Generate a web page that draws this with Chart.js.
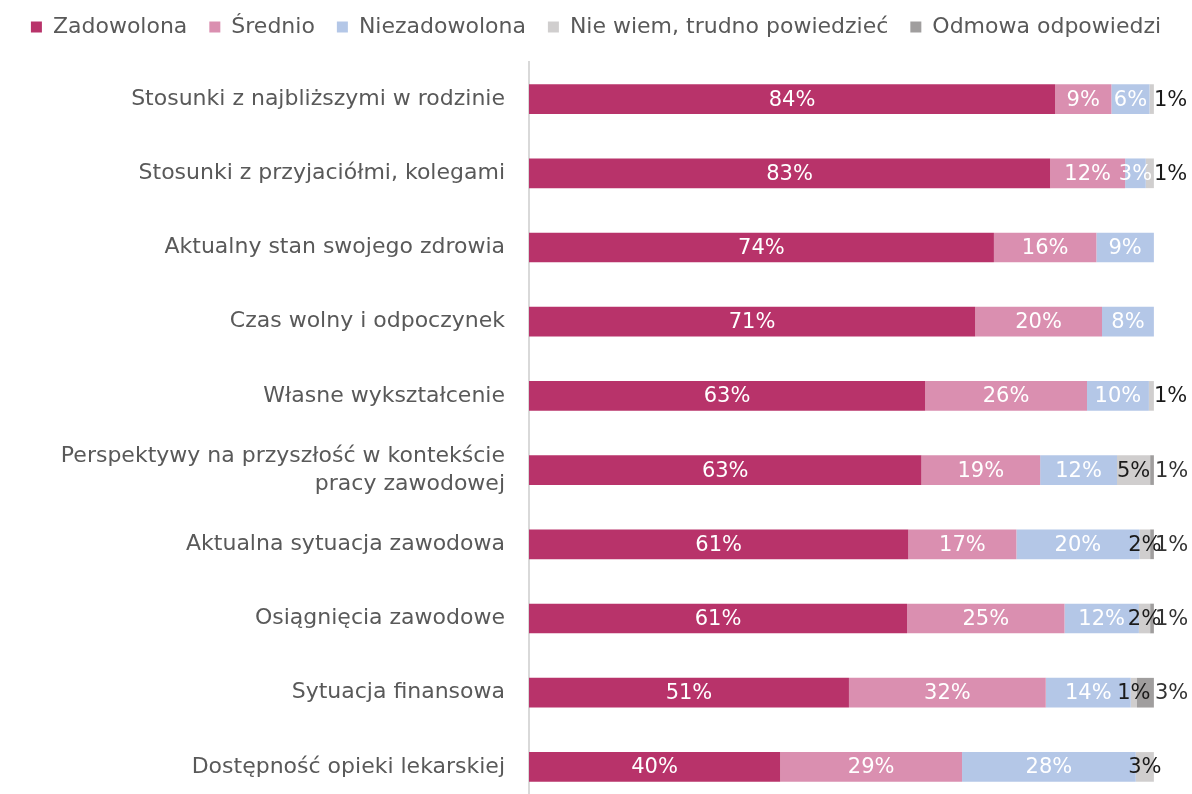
<!DOCTYPE html>
<html>
<head>
<meta charset="utf-8">
<script src="https://cdn.jsdelivr.net/npm/chart.js@4.4.1/dist/chart.umd.min.js"></script>
<style>
  html, body { margin: 0; padding: 0; background: #fff; overflow: hidden; }
  #wrap { width: 1192px; height: 804px; position: relative; }
</style>
</head>
<body>
<div id="wrap"><canvas id="satisfactionChart"></canvas></div>
<script>
// Categories (top to bottom)
const categories = [
    'Stosunki z najbliższymi w rodzinie',
    'Stosunki z przyjaciółmi, kolegami',
    'Aktualny stan swojego zdrowia',
    'Czas wolny i odpoczynek',
    'Własne wykształcenie',
    ['Perspektywy na przyszłość w kontekście', 'pracy zawodowej'],
    'Aktualna sytuacja zawodowa',
    'Osiągnięcia zawodowe',
    'Sytuacja finansowa',
    'Dostępność opieki lekarskiej',
];

// Shares in %
const zadowolona    = [84.2, 83.4, 74.4, 71.4, 63.4, 62.8, 60.7, 60.5, 51.2, 40.2];
const srednio       = [ 9.0, 12.0, 16.4, 20.3, 25.9, 19.0, 17.3, 25.2, 31.5, 29.1];
const niezadowolona = [ 6.1,  3.3,  9.2,  8.3,  9.9, 12.3, 19.7, 11.9, 13.6, 27.8];
const nieWiem       = [ 0.7,  1.3,  0,    0,    0.8,  5.3,  1.7,  1.8,  1.0,  2.9];
const odmowa        = [ 0,    0,    0,    0,    0,    0.6,  0.6,  0.6,  2.7,  0];

const FONT = '"DejaVu Sans", sans-serif';

// Draws the percentage labels on the segments
const segmentLabels = {
    id: 'segmentLabels',
    afterDatasetsDraw(chart) {
        const ctx = chart.ctx;
        ctx.save();
        ctx.font = '21px ' + FONT;
        ctx.textBaseline = 'middle';
        chart.data.datasets.forEach((ds, di) => {
            const meta = chart.getDatasetMeta(di);
            meta.data.forEach((bar, i) => {
                const v = ds.data[i];
                if (!v) return;
                const txt = Math.round(v) + '%';
                let x = (bar.x + bar.base) / 2;
                ctx.textAlign = 'center';
                ctx.fillStyle = di < 3 ? '#ffffff' : '#1a1a1a';
                if (di === 4) {
                    // refusals: written right after the bar end
                    x = bar.x + 1;
                    ctx.textAlign = 'left';
                    ctx.fillStyle = '#333333';
                } else if (di === 3 && !odmowa[i] && v < 2) {
                    x = bar.x;
                    ctx.textAlign = 'left';
                }
                ctx.fillText(txt, x, bar.y + 1);
            });
        });
        ctx.restore();
    }
};

// Fixed legend block height, so the bars start where they do in the original
const legendGap = {
    id: 'legendGap',
    beforeInit(chart) {
        const fit = chart.legend.fit;
        chart.legend.fit = function () {
            fit.bind(chart.legend)();
            this.height = 68;
        };
    }
};

const ctx = document.getElementById('satisfactionChart').getContext('2d');

new Chart(ctx, {
    type: 'bar',
    data: {
        labels: categories,
        datasets: [
            { label: 'Zadowolona', data: zadowolona, backgroundColor: '#B8336A' },
            { label: 'Średnio', data: srednio, backgroundColor: '#DA8FB0' },
            { label: 'Niezadowolona', data: niezadowolona, backgroundColor: '#B4C7E7' },
            { label: 'Nie wiem, trudno powiedzieć', data: nieWiem, backgroundColor: '#D0CECE' },
            { label: 'Odmowa odpowiedzi', data: odmowa, backgroundColor: '#A09E9E' },
        ]
    },
    options: {
        indexAxis: 'y',
        responsive: true,
        maintainAspectRatio: false,
        animation: false,
        datasets: {
            bar: { barPercentage: 0.8, categoryPercentage: 0.5, borderWidth: 0 }
        },
        layout: { padding: { left: 0, right: 0, top: -6, bottom: 0 } },
        plugins: {
            legend: {
                position: 'top',
                labels: {
                    color: '#595959',
                    font: { family: FONT, size: 22 },
                    boxWidth: 11,
                    boxHeight: 11,
                    padding: 22,
                }
            },
            tooltip: { enabled: false }
        },
        scales: {
            x: {
                display: false,
                stacked: true,
                min: 0,
                max: 106.1, // leaves room on the right for the outside labels
            },
            y: {
                stacked: true,
                afterFit: (scale) => {
                    scale.width = 529;
                    scale.paddingTop = 0;
                    scale.paddingBottom = 0;
                },
                grid: { drawOnChartArea: false, drawTicks: false },
                border: { color: '#d9d9d9', width: 2 },
                ticks: {
                    color: '#595959',
                    padding: 24,
                    font: { family: FONT, size: 22, lineHeight: 1.27 },
                }
            }
        }
    },
    plugins: [segmentLabels, legendGap]
});
</script>
</body>
</html>
